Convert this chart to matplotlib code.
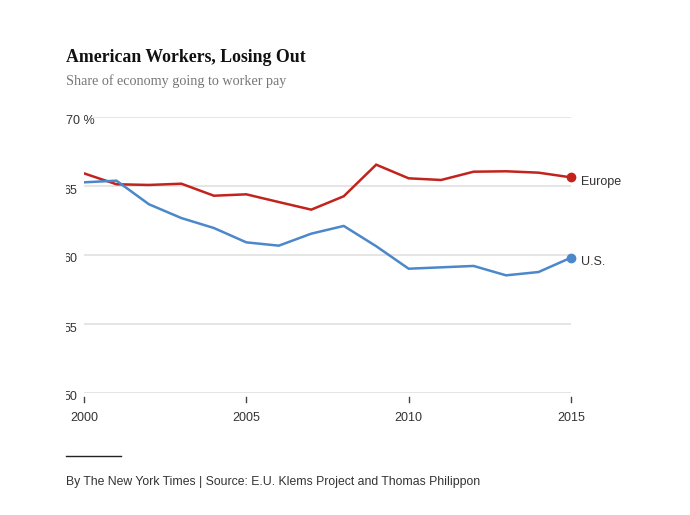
import matplotlib
matplotlib.use("Agg")
import matplotlib.pyplot as plt
from matplotlib.transforms import Bbox, TransformedBbox, offset_copy

years = list(range(2000, 2016))
europe = [65.88, 65.09, 65.04, 65.13, 64.26, 64.36, 63.80, 63.25, 64.22,
          66.51, 65.52, 65.40, 66.00, 66.03, 65.93, 65.59]
us = [65.23, 65.35, 63.64, 62.64, 61.92, 60.88, 60.64, 61.51, 62.07,
      60.60, 58.97, 59.07, 59.17, 58.49, 58.73, 59.77]
series_names = ["Europe", "U.S."]
y_ticks = [50, 55, 60, 65, 70]
y_tick_labels = ["50", "55", "60", "65", "70 %"]
x_ticks = [2000, 2005, 2010, 2015]

RED = "#c2231d"
BLUE = "#4a88cb"
TXT = "#333333"
GRID = "#dedede"
SANS = ["Liberation Sans", "DejaVu Sans"]
SERIF = ["Liberation Serif", "DejaVu Serif"]

W, H = 690, 515
fig = plt.figure(figsize=(W / 100, H / 100), dpi=100)
ax = fig.add_axes([84 / W, 1 - 392.5 / H, (571 - 84) / W, (392.5 - 116.5) / H])
ax.set_xlim(2000, 2015)
ax.set_ylim(50, 70)
ax.axis("off")

# gridlines
for t in y_ticks:
    xmin = 2000 + 15 * (9 / 487) if t == 70 else 2000
    ax.hlines(t, xmin, 2015, color=GRID, lw=1.1, zorder=1)

# y tick labels, clipped on the left like the original
clip = TransformedBbox(Bbox([[66 / W, 0], [1, 1]]), fig.transFigure)
for t, lab in zip(y_ticks, y_tick_labels):
    tr = offset_copy(ax.get_yaxis_transform(), fig=fig, x=0, y=-5, units="dots")
    txt = ax.text(-20.5 / 487 if t != 70 else -18 / 487, t, lab, transform=tr,
                  ha="left", va="center", fontsize=9, color=TXT, family=SANS)
    txt.set_clip_box(clip)
    txt.set_clip_on(True)

# x ticks
for xt in x_ticks:
    ax.plot([xt, xt], [-0.015, -0.035], transform=ax.get_xaxis_transform(),
            color="#444444", lw=1, clip_on=False)
    ax.text(xt, -0.092, str(xt), transform=ax.get_xaxis_transform(),
            ha="center", va="center", fontsize=9, color=TXT, family=SANS)

# lines
for vals, col, name in [(europe, RED, series_names[0]), (us, BLUE, series_names[1])]:
    ax.plot(years, vals, color=col, lw=1.8, zorder=3, solid_joinstyle="miter")
    ax.plot(years[-1], vals[-1], "o", color=col, ms=6, zorder=4, clip_on=False)
    ax.annotate(name, (years[-1], vals[-1]), xytext=(7, -3), textcoords="offset points",
                ha="left", va="center", fontsize=9, color=TXT, family=SANS,
                annotation_clip=False)

# titles
fig.text(66 / W, 1 - 58 / H, "American Workers, Losing Out", ha="left", va="center",
         fontsize=12.8, fontweight="bold", family=SERIF, color="#111111")
fig.text(66 / W, 1 - 81 / H, "Share of economy going to worker pay", ha="left",
         va="center", fontsize=10.2, family=SERIF, color="#777777")

# footer
fig.add_artist(plt.Line2D([66 / W, 121 / W], [1 - 456 / H, 1 - 456 / H],
                          color="#222222", lw=1, transform=fig.transFigure))
fig.text(66 / W, 1 - 482 / H,
         "By The New York Times | Source: E.U. Klems Project and Thomas Philippon",
         ha="left", va="center", fontsize=8.85, family=SANS, color=TXT)

fig.savefig("out.png", dpi=100)
